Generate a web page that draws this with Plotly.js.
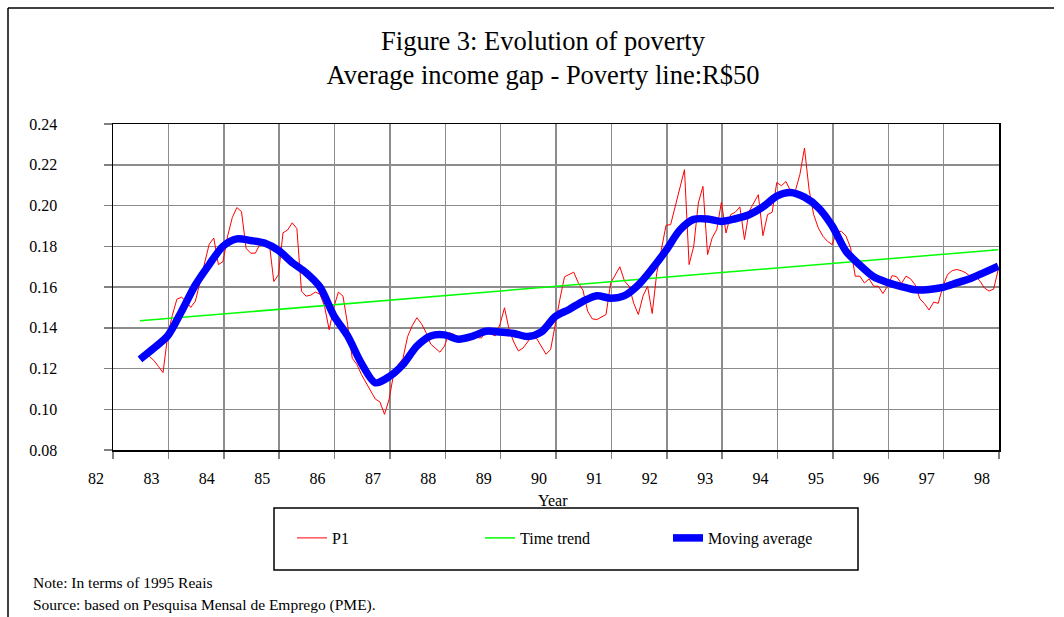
<!DOCTYPE html>
<html>
<head>
<meta charset="utf-8">
<script src="https://cdn.plot.ly/plotly-3.0.1.min.js"></script>
<style>
  html, body { margin: 0; padding: 0; background: #fff; }
  #chart { width: 1064px; height: 617px; }
</style>
</head>
<body>
<div id="chart"></div>
<script>
// ---- data ----
// monthly series start (x in axis-label year units) and step
const START_YEAR = 82.794;
const STEP = 1 / 12;

// P1: monthly average income gap
const p1Values = [
  0.125, 0.128, 0.126, 0.124, 0.121, 0.118, 0.136, 0.146, 0.154, 0.155, 0.153, 0.150,
  0.153, 0.162, 0.172, 0.181, 0.184, 0.171, 0.1725, 0.185, 0.194, 0.199, 0.197, 0.179,
  0.1766, 0.1766, 0.181, 0.182, 0.182, 0.1627, 0.166, 0.1866, 0.188, 0.1915, 0.1887, 0.158,
  0.1555, 0.156, 0.1575, 0.1565, 0.1506, 0.139, 0.150, 0.1575, 0.1555, 0.1416, 0.125, 0.122,
  0.117, 0.113, 0.109, 0.105, 0.1036, 0.0975, 0.105, 0.1177, 0.122, 0.125, 0.1357, 0.141,
  0.1449, 0.142, 0.1376, 0.132, 0.130, 0.128, 0.131, 0.1376, 0.1368, 0.1345, 0.1343, 0.1345,
  0.135, 0.1352, 0.135, 0.1384, 0.137, 0.136, 0.1416, 0.1498, 0.139, 0.133, 0.1286, 0.130,
  0.133, 0.136, 0.1346, 0.131, 0.127, 0.1294, 0.1424, 0.154, 0.165, 0.166, 0.1673, 0.162,
  0.1584, 0.1482, 0.1444, 0.144, 0.1452, 0.1465, 0.162, 0.166, 0.1699, 0.1629, 0.1604, 0.152,
  0.1465, 0.1555, 0.1604, 0.147, 0.167, 0.1784, 0.1903, 0.1906, 0.1996, 0.2078, 0.2176, 0.171,
  0.180, 0.2012, 0.2094, 0.1759, 0.1841, 0.1882, 0.2016, 0.1865, 0.1955, 0.1967, 0.1993, 0.1833,
  0.1971, 0.2012, 0.2053, 0.1852, 0.1955, 0.1967, 0.2113, 0.2097, 0.2118, 0.2069, 0.207, 0.2151,
  0.2282, 0.2078, 0.1955, 0.189, 0.1849, 0.1824, 0.1808, 0.1873, 0.1873, 0.185, 0.1792, 0.1653,
  0.1653, 0.162, 0.164, 0.1604, 0.1604, 0.1568, 0.1604, 0.1656, 0.165, 0.1617, 0.1653, 0.164,
  0.161, 0.1542, 0.1519, 0.1487, 0.1526, 0.152, 0.1604, 0.1661, 0.168, 0.1686, 0.168, 0.1669,
  0.165, 0.1656, 0.163, 0.1595, 0.158, 0.159, 0.1686
];

// Moving average, read every 3 months
const MA_STEP_MONTHS = 3;
const maValues = [
  0.1245, 0.130, 0.136, 0.148, 0.161, 0.171, 0.180, 0.1836, 0.1828, 0.1816,
  0.178, 0.172, 0.167, 0.160, 0.146, 0.136, 0.1225, 0.113, 0.116, 0.122,
  0.131, 0.136, 0.1365, 0.1344, 0.1358, 0.1383, 0.1379, 0.1372, 0.1357, 0.138,
  0.1455, 0.149, 0.153, 0.1557, 0.1545, 0.1558, 0.161, 0.169, 0.178, 0.188,
  0.1932, 0.1934, 0.1922, 0.1935, 0.1955, 0.1993, 0.2046, 0.2064, 0.2041, 0.199,
  0.190, 0.1775, 0.1708, 0.165, 0.1622, 0.1602, 0.1586, 0.1588, 0.1598, 0.1620,
  0.1642, 0.1672, 0.1702
];

// Time trend: values at the first and last month
const trendValues = [0.1434, 0.1783];

// axis labels
const yearLabels = ['82','83','84','85','86','87','88','89','90','91','92','93','94','95','96','97','98'];
const yearTickVals = [82,83,84,85,86,87,88,89,90,91,92,93,94,95,96,97,98];

// ---- build x positions ----
const p1X = p1Values.map((_, i) => START_YEAR + i * STEP);
const maX = maValues.map((_, i) => START_YEAR + i * MA_STEP_MONTHS * STEP);
const trendX = [p1X[0], p1X[p1X.length - 1]];

const FONT = 'Liberation Serif, Times New Roman, serif';

// pixel helpers for layout (plot area: l=96 paper start, width 903; t=124, height 326)
const W = 1064, H = 617, ML = 96, MR = 65, MT = 124, MB = 167;
const PW = W - ML - MR, PH = H - MT - MB;
const px = x => (x - ML) / PW;
const py = y => (H - MB - y) / PH;
const LABEL_SHIFT = 17 / PW;

const traces = [
  {
    x: p1X, y: p1Values, type: 'scatter', mode: 'lines', name: 'P1',
    line: { color: '#ff0000', width: 1 }, hoverinfo: 'skip'
  },
  {
    x: trendX, y: trendValues, type: 'scatter', mode: 'lines', name: 'Time trend',
    line: { color: '#00ff00', width: 1.5 }, hoverinfo: 'skip'
  },
  {
    x: maX, y: maValues, type: 'scatter', mode: 'lines', name: 'Moving average',
    line: { color: '#0000ff', width: 7.5, shape: 'spline', smoothing: 0.8 }, hoverinfo: 'skip'
  },
  {
    x: [], y: [], xaxis: 'x2', yaxis: 'y2', type: 'scatter', mode: 'lines',
    showlegend: false, hoverinfo: 'skip'
  }
];

const layout = {
  width: W, height: H,
  margin: { l: ML, r: MR, t: MT, b: MB, pad: 0 },
  paper_bgcolor: '#ffffff',
  plot_bgcolor: 'rgba(0,0,0,0)',
  font: { family: FONT, size: 16, color: '#000' },
  showlegend: true,
  title: {
    text: 'Figure 3: Evolution of poverty<br>Average income gap - Poverty line:R$50',
    font: { family: FONT, size: 26.5, color: '#000' },
    xref: 'container', x: 543 / W, xanchor: 'center',
    yref: 'container', y: 1 - 50 / H, yanchor: 'middle'
  },
  xaxis: {
    domain: [LABEL_SHIFT, 1],
    range: [82 + 17 / 55.375, 98 + 17 / 55.375],
    tick0: 82 + 17 / 55.375, dtick: 1, tickmode: 'linear',
    showticklabels: false,
    ticks: 'outside', ticklen: 7, tickcolor: '#808080', tickwidth: 1.5,
    showgrid: true, gridcolor: '#8c8c8c', gridwidth: 1.5,
    zeroline: false,
    showline: true, mirror: true, linecolor: '#000', linewidth: 1.5,
    fixedrange: true
  },
  xaxis2: {
    domain: [0, 1 - LABEL_SHIFT],
    anchor: 'y2',
    range: [82, 98],
    tickmode: 'array', tickvals: yearTickVals, ticktext: yearLabels,
    ticks: '', showgrid: false, zeroline: false, showline: false,
    tickfont: { family: FONT, size: 16, color: '#000' },
    ticklabelstandoff: 17,
    fixedrange: true
  },
  yaxis: {
    range: [0.08, 0.24], dtick: 0.02, tick0: 0.08, tickformat: '.2f',
    ticks: 'outside', ticklen: 8, tickcolor: '#808080', tickwidth: 1.5,
    tickfont: { family: FONT, size: 16, color: '#000' },
    ticklabelstandoff: 43,
    showgrid: true, gridcolor: '#8c8c8c', gridwidth: 1.5,
    zeroline: false,
    showline: true, mirror: true, linecolor: '#000', linewidth: 1.5,
    fixedrange: true
  },
  yaxis2: {
    range: [0.08, 0.24], visible: false, showgrid: false, zeroline: false,
    anchor: 'x2', fixedrange: true
  },
  legend: {
    orientation: 'h',
    x: px(292), xanchor: 'left',
    y: py(538), yanchor: 'middle',
    bgcolor: 'rgba(0,0,0,0)', borderwidth: 0,
    entrywidth: 143, entrywidthmode: 'pixels',
    font: { family: FONT, size: 16, color: '#000' },
    itemclick: false, itemdoubleclick: false
  },
  annotations: [
    {
      text: 'Year', xref: 'paper', yref: 'paper', x: px(553), y: py(500),
      xanchor: 'center', yanchor: 'middle', showarrow: false,
      font: { family: FONT, size: 16, color: '#000' }
    },
    {
      text: 'Note: In terms of 1995 Reais', xref: 'paper', yref: 'paper',
      x: px(31), y: py(582), xanchor: 'left', yanchor: 'middle', showarrow: false,
      font: { family: FONT, size: 15.5, color: '#000' }
    },
    {
      text: 'Source: based on Pesquisa Mensal de Emprego (PME).', xref: 'paper', yref: 'paper',
      x: px(31), y: py(605), xanchor: 'left', yanchor: 'middle', showarrow: false,
      font: { family: FONT, size: 15.5, color: '#000' }
    }
  ],
  shapes: [
    { type: 'rect', xref: 'paper', yref: 'paper', x0: px(274), x1: px(858), y0: py(570), y1: py(508),
      line: { color: '#000', width: 1.5 }, fillcolor: 'rgba(0,0,0,0)' },
    { type: 'line', xref: 'paper', yref: 'paper', x0: px(8), x1: px(1054), y0: py(8), y1: py(8),
      line: { color: '#000', width: 1.5 } },
    { type: 'line', xref: 'paper', yref: 'paper', x0: px(8), x1: px(8), y0: py(8), y1: py(620),
      line: { color: '#000', width: 1.5 } }
  ]
};

Plotly.newPlot('chart', traces, layout, { displayModeBar: false, staticPlot: true });
</script>
</body>
</html>
